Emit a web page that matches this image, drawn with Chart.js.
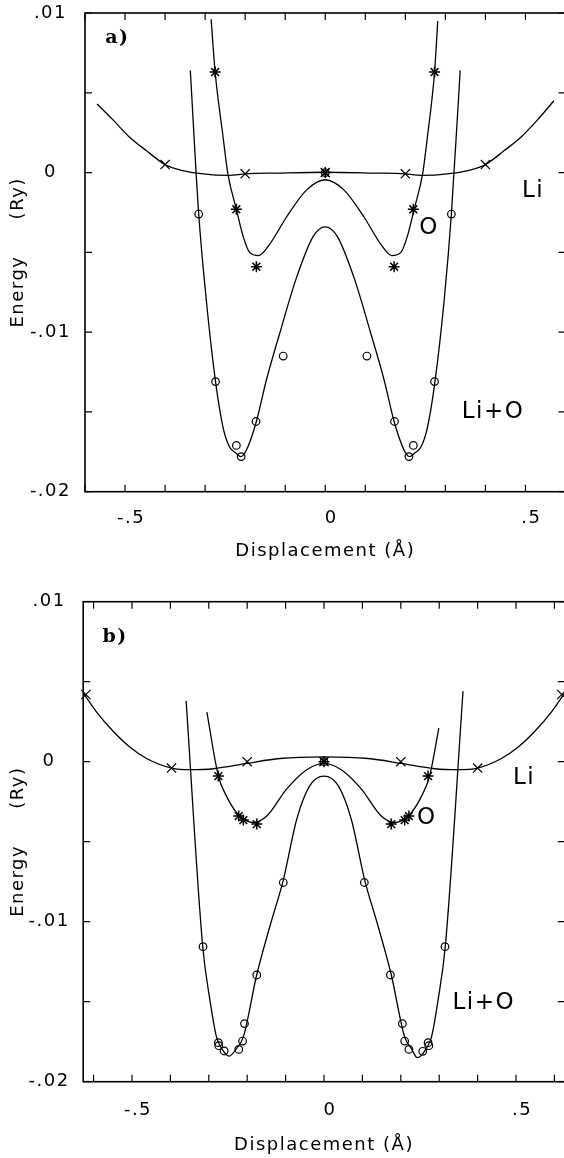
<!DOCTYPE html>
<html>
<head>
<meta charset="utf-8">
<title>Li / O displacement energy</title>
<script src="https://cdn.jsdelivr.net/npm/chart.js@4.4.1/dist/chart.umd.min.js"></script>
<style>
  body { margin: 0; background: #fff; overflow: hidden; width: 564px; height: 1158px; position: relative; }
  canvas { position: absolute; left: 0; }
  #panelA { top: 0; }
  #panelB { top: 580px; }
</style>
</head>
<body>
<canvas id="panelA" width="600" height="566"></canvas>
<canvas id="panelB" width="600" height="578"></canvas>
<script>
  // axis labels
  var xTickValues = [-0.5, 0, 0.5];
  var xTickLabels = ['-.5', '0', '.5'];
  var yTickValues = [0.01, 0, -0.01, -0.02];
  var yTickLabels = ['.01', '0', '-.01', '-.02'];

  // a) calculated points  [displacement (A), energy (Ry)]
  var aLiPts = [[-0.4, 0.0005], [-0.2, -0.00008], [0, 0], [0.2, -0.00008], [0.4, 0.0005]];
  var aOPts = [[-0.275, 0.0063], [-0.222, -0.0023], [-0.172, -0.0059], [0, 0],
               [0.172, -0.0059], [0.22, -0.0023], [0.273, 0.0063]];
  var aLiOPts = [[-0.316, -0.0026], [-0.274, -0.0131], [-0.222, -0.0171], [-0.21, -0.0178],
                 [-0.173, -0.0156], [-0.105, -0.0115], [0, 0], [0.104, -0.0115], [0.173, -0.0156],
                 [0.209, -0.0178], [0.22, -0.0171], [0.273, -0.0131], [0.315, -0.0026]];

  // a) fitted curves
  var aLiFit = [[-0.57, 0.0043], [-0.53, 0.0033], [-0.49, 0.00225], [-0.447, 0.00138], [-0.4, 0.0005],
                [-0.364, 0.00017], [-0.32, -0.00004], [-0.28, -0.00015], [-0.24, -0.00017], [-0.2, -0.00008],
                [-0.12, -0.00003], [0, 0.00002], [0.12, -0.00003], [0.2, -0.00008], [0.24, -0.00017],
                [0.28, -0.00015], [0.32, -0.00004], [0.364, 0.00017], [0.4, 0.0005], [0.447, 0.00138],
                [0.49, 0.00225], [0.53, 0.0033], [0.571, 0.0045]];
  var aOFit = [[-0.285, 0.0096], [-0.275, 0.0063], [-0.255, 0.0022], [-0.243, -0.0001], [-0.222, -0.0023],
               [-0.205, -0.004], [-0.189, -0.005], [-0.166, -0.0052], [-0.139, -0.0045], [-0.097, -0.0028],
               [-0.047, -0.0011], [0, -0.00045], [0.047, -0.0011], [0.097, -0.0028], [0.139, -0.0045],
               [0.166, -0.0052], [0.189, -0.005], [0.205, -0.004], [0.222, -0.0023], [0.243, -0.0001],
               [0.255, 0.0022], [0.273, 0.0063], [0.281, 0.0095]];
  var aLiOFit = [[-0.337, 0.0064], [-0.316, -0.0026], [-0.297, -0.008], [-0.274, -0.0131], [-0.255, -0.016],
                 [-0.239, -0.0172], [-0.222, -0.0176], [-0.211, -0.0178], [-0.197, -0.0174], [-0.172, -0.0156],
                 [-0.147, -0.013], [-0.114, -0.0101], [-0.072, -0.0066], [-0.03, -0.004], [0, -0.0034],
                 [0.03, -0.004], [0.072, -0.0066], [0.114, -0.0101], [0.147, -0.013], [0.172, -0.0156],
                 [0.197, -0.0174], [0.211, -0.0178], [0.222, -0.0176], [0.239, -0.0172], [0.255, -0.016],
                 [0.274, -0.0131], [0.297, -0.008], [0.315, -0.0026], [0.337, 0.0064]];

  // b) calculated points
  var bLiPts = [[-0.62, 0.0042], [-0.397, -0.0004], [-0.2, 0], [0, 0], [0.2, 0], [0.4, -0.0004], [0.619, 0.0042]];
  var bOPts = [[-0.275, -0.0009], [-0.222, -0.0034], [-0.21, -0.00365], [-0.175, -0.0039], [0, 0],
               [0.175, -0.0039], [0.21, -0.00365], [0.221, -0.0034], [0.271, -0.0009]];
  var bLiOPts = [[-0.315, -0.01156], [-0.275, -0.01756], [-0.274, -0.01775], [-0.26, -0.01808],
                 [-0.222, -0.01798], [-0.212, -0.01746], [-0.207, -0.01637], [-0.175, -0.01333],
                 [-0.106, -0.00755], [0, 0], [0.105, -0.00755], [0.173, -0.01333], [0.204, -0.01637],
                 [0.21, -0.01746], [0.221, -0.01798], [0.257, -0.0181], [0.271, -0.01756],
                 [0.273, -0.01775], [0.315, -0.01156]];

  // b) fitted curves
  var bLiFit = [[-0.627, 0.0043], [-0.592, 0.0031], [-0.549, 0.0019], [-0.505, 0.0009], [-0.462, 0.0002],
                [-0.397, -0.0004], [-0.349, -0.0005], [-0.288, -0.00044], [-0.2, -0.0001], [-0.115, 0.0002],
                [0, 0.0003], [0.115, 0.0002], [0.2, -0.0001], [0.288, -0.00044], [0.349, -0.0005],
                [0.4, -0.0004], [0.462, 0.0002], [0.505, 0.0009], [0.549, 0.0019], [0.592, 0.0031],
                [0.627, 0.0043]];
  var bOFit = [[-0.305, 0.0031], [-0.275, -0.0009], [-0.254, -0.00215], [-0.227, -0.0032], [-0.201, -0.0037],
               [-0.184, -0.0038], [-0.149, -0.0034], [-0.097, -0.0017], [-0.045, -0.0005], [0, -0.0001],
               [0.045, -0.0005], [0.097, -0.0017], [0.149, -0.0034], [0.184, -0.0038], [0.201, -0.0037],
               [0.227, -0.0032], [0.254, -0.00215], [0.275, -0.0009], [0.299, 0.0021]];
  var bLiOFit = [[-0.359, 0.0038], [-0.316, -0.0115], [-0.297, -0.0149], [-0.28, -0.0172], [-0.267, -0.0179],
                 [-0.247, -0.0184], [-0.227, -0.0179], [-0.21, -0.0172], [-0.175, -0.0133], [-0.141, -0.0103],
                 [-0.106, -0.0074], [-0.071, -0.0036], [-0.037, -0.0015], [0, -0.0009], [0.037, -0.0015],
                 [0.071, -0.0036], [0.106, -0.0074], [0.141, -0.0103], [0.175, -0.0133], [0.21, -0.0172],
                 [0.227, -0.0179], [0.243, -0.0185], [0.267, -0.0179], [0.28, -0.0172], [0.297, -0.0149],
                 [0.316, -0.0115], [0.362, 0.0044]];

  Chart.defaults.font.family = '"DejaVu Sans", sans-serif';
  Chart.defaults.color = '#000';

  function pts(pairs) {
    return pairs.map(function (p) { return {x: p[0], y: p[1]}; });
  }
  function fitSet(pairs) {
    return {data: pts(pairs), showLine: true, borderColor: '#000', borderWidth: 1.3,
            pointRadius: 0, cubicInterpolationMode: 'monotone', fill: false};
  }
  function markSet(pairs, style, r, w) {
    return {data: pts(pairs), showLine: false, pointStyle: style, pointRadius: r,
            pointBorderColor: '#000', pointBackgroundColor: 'rgba(0,0,0,0)', pointBorderWidth: w, clip: false};
  }
  function pickLabel(values, labels, v) {
    for (var i = 0; i < values.length; i++) {
      if (Math.abs(values[i] - v) < 1e-9) return labels[i];
    }
    return '';
  }

  // the old plotter lettering is wide, so space the letters a bit
  var spacingPlugin = {
    id: 'spacing',
    beforeUpdate: function (chart) { chart.ctx.letterSpacing = '1.5px'; }
  };

  // frame with inward ticks on all four sides + text labels
  var framePlugin = {
    id: 'frame',
    afterDatasetsDraw: function (chart, args, opts) {
      var ctx = chart.ctx, a = chart.chartArea, xs = chart.scales.x, ys = chart.scales.y;
      ctx.save();
      ctx.strokeStyle = '#000';
      ctx.lineWidth = 1.6;
      ctx.strokeRect(a.left, a.top, a.right - a.left, a.bottom - a.top);
      ctx.lineWidth = 1.2;
      ctx.beginPath();
      xs.ticks.forEach(function (t) {
        var px = xs.getPixelForValue(t.value);
        ctx.moveTo(px, a.bottom); ctx.lineTo(px, a.bottom - 7);
        ctx.moveTo(px, a.top); ctx.lineTo(px, a.top + 7);
      });
      ys.ticks.forEach(function (t) {
        var py = ys.getPixelForValue(t.value);
        ctx.moveTo(a.left, py); ctx.lineTo(a.left + 7, py);
        ctx.moveTo(a.right, py); ctx.lineTo(a.right - 7, py);
      });
      ctx.stroke();
      ctx.fillStyle = '#000';
      ctx.textAlign = 'center';
      ctx.textBaseline = 'middle';
      (opts.notes || []).forEach(function (n) {
        ctx.font = n.font;
        ctx.fillText(n.text, xs.getPixelForValue(n.x), ys.getPixelForValue(n.y));
      });
      ctx.restore();
    }
  };

  function makePanel(id, cfg) {
    var tickFont = {size: 18};
    return new Chart(document.getElementById(id), {
      type: 'scatter',
      data: {
        datasets: [
          fitSet(cfg.liFit), fitSet(cfg.oFit), fitSet(cfg.lioFit),
          markSet(cfg.liPts, 'crossRot', 6.5, 1.2), markSet(cfg.oPts, 'star', 5.5, 1.5),
          markSet(cfg.lioPts, 'circle', 3.8, 1.2)
        ]
      },
      options: {
        responsive: false,
        animation: false,
        layout: {padding: {top: cfg.top, right: cfg.right, bottom: 0, left: 0}},
        plugins: {
          legend: {display: false},
          tooltip: {enabled: false},
          frame: {notes: cfg.notes}
        },
        scales: {
          x: {
            type: 'linear', position: 'bottom', min: -cfg.xmax, max: cfg.xmax,
            grid: {display: false, drawTicks: false}, border: {display: false},
            afterFit: function (s) { s.height = cfg.xh; s.paddingLeft = 0; s.paddingRight = 0; },
            ticks: {
              stepSize: 0.1, includeBounds: false, autoSkip: false, maxRotation: 0,
              font: tickFont, padding: cfg.xpad, labelOffset: 6,
              callback: function (v) { return pickLabel(xTickValues, xTickLabels, v); }
            },
            title: {display: true, text: 'Displacement (Å)', font: {size: 18}, padding: {top: 0, bottom: cfg.tpad}}
          },
          y: {
            type: 'linear', position: 'left', min: -0.02, max: 0.01,
            grid: {display: false, drawTicks: false}, border: {display: false},
            afterFit: function (s) { s.width = cfg.left; s.paddingTop = 0; s.paddingBottom = 0; },
            ticks: {
              stepSize: 0.005, autoSkip: false, crossAlign: 'center', font: tickFont, padding: cfg.ypad,
              callback: function (v) { return pickLabel(yTickValues, yTickLabels, v); }
            },
            title: {display: true, text: 'Energy     (Ry)', font: {size: 18}, padding: {top: 8, bottom: 0}}
          }
        }
      },
      plugins: [spacingPlugin, framePlugin]
    });
  }

  makePanel('panelA', {
    liPts: aLiPts, oPts: aOPts, lioPts: aLiOPts, liFit: aLiFit, oFit: aOFit, lioFit: aLiOFit,
    xmax: 0.6, top: 13, right: 34.5, left: 85, xh: 74.3, xpad: 16, ypad: 14, tpad: 3.5,
    notes: [
      {text: 'a)', x: -0.519, y: 0.0084, font: 'bold 19px "DejaVu Serif"'},
      {text: 'Li', x: 0.519, y: -0.00113, font: '23px "DejaVu Sans"'},
      {text: 'O', x: 0.259, y: -0.0035, font: '23px "DejaVu Sans"'},
      {text: 'Li+O', x: 0.419, y: -0.015, font: '23px "DejaVu Sans"'}
    ]
  });

  makePanel('panelB', {
    liPts: bLiPts, oPts: bOPts, lioPts: bLiOPts, liFit: bLiFit, oFit: bOFit, lioFit: bLiOFit,
    xmax: 0.627, top: 21.7, right: 35.2, left: 83.2, xh: 76.3, xpad: 17.5, ypad: 13.6, tpad: 2.2,
    notes: [
      {text: 'b)', x: -0.544, y: 0.0078, font: 'bold 19px "DejaVu Serif"'},
      {text: 'Li', x: 0.521, y: -0.00102, font: '23px "DejaVu Sans"'},
      {text: 'O', x: 0.268, y: -0.0035, font: '23px "DejaVu Sans"'},
      {text: 'Li+O', x: 0.416, y: -0.0151, font: '23px "DejaVu Sans"'}
    ]
  });
</script>
</body>
</html>
